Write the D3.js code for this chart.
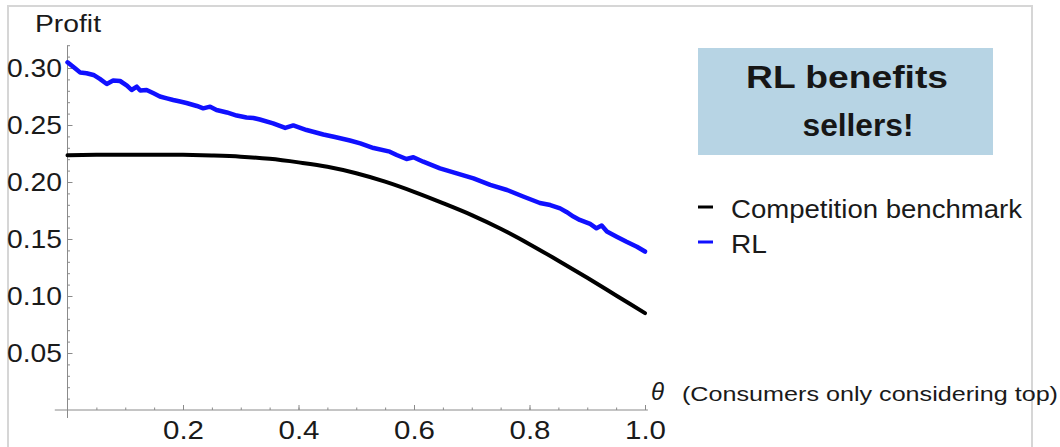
<!DOCTYPE html>
<html>
<head>
<meta charset="utf-8">
<script src="https://cdn.jsdelivr.net/npm/d3@7"></script>
<style>
  html, body { margin: 0; padding: 0; background: #fff; }
  svg { display: block; font-family: "Liberation Sans", Arial, Helvetica, sans-serif; }
</style>
</head>
<body>
<svg id="chart" width="1060" height="447"></svg>
<script>
// Competition benchmark profit as a function of theta
const benchTheta  = [0, 0.05, 0.1, 0.15, 0.2, 0.25, 0.3, 0.35, 0.4, 0.45, 0.5, 0.55, 0.6, 0.65, 0.7, 0.75, 0.8, 0.85, 0.9, 0.95, 1.0];
const benchProfit = [0.2235, 0.2238, 0.2240, 0.2240, 0.2238, 0.2232, 0.2222, 0.2203, 0.2172, 0.2134, 0.2077, 0.2003, 0.1914, 0.1815, 0.1710, 0.1590, 0.1455, 0.1310, 0.1160, 0.1005, 0.0850];

// RL seller profit (simulated, noisy)
const rlTheta  = [0, 0.013, 0.022, 0.033, 0.045, 0.056, 0.068, 0.079, 0.091, 0.103, 0.111, 0.120, 0.126, 0.137, 0.149, 0.160, 0.172, 0.183, 0.195, 0.206, 0.224, 0.235, 0.247, 0.258, 0.276, 0.293, 0.310, 0.322, 0.333, 0.356, 0.377, 0.391, 0.414, 0.443, 0.463, 0.489, 0.507, 0.530, 0.558, 0.570, 0.587, 0.599, 0.616, 0.645, 0.674, 0.703, 0.732, 0.761, 0.789, 0.818, 0.836, 0.853, 0.864, 0.876, 0.887, 0.905, 0.916, 0.925, 0.934, 0.951, 0.968, 0.986, 1.0];
const rlProfit = [0.3050, 0.2997, 0.2961, 0.2954, 0.2939, 0.2904, 0.2860, 0.2890, 0.2886, 0.2846, 0.2807, 0.2836, 0.2803, 0.2807, 0.2778, 0.2750, 0.2734, 0.2719, 0.2706, 0.2693, 0.2667, 0.2646, 0.2661, 0.2632, 0.2610, 0.2583, 0.2566, 0.2561, 0.2548, 0.2515, 0.2474, 0.2496, 0.2456, 0.2417, 0.2395, 0.2364, 0.2339, 0.2298, 0.2266, 0.2237, 0.2202, 0.2217, 0.2178, 0.2120, 0.2076, 0.2031, 0.1974, 0.1930, 0.1873, 0.1816, 0.1798, 0.1769, 0.1737, 0.1697, 0.1667, 0.1632, 0.1594, 0.1618, 0.1566, 0.1520, 0.1476, 0.1432, 0.1390];

const xTicks = [0.2, 0.4, 0.6, 0.8, 1.0];
const xMinorTicks = d3.range(0.05, 1.001, 0.05);
const yTicks = [0.05, 0.10, 0.15, 0.20, 0.25, 0.30];
const yMinorTicks = d3.range(0.01, 0.3201, 0.01);

const seriesNames = ["Competition benchmark", "RL"];
const seriesColors = ["#000000", "#1010ff"];

const svg = d3.select("#chart");

// frame around the figure
svg.append("path")
  .attr("d", "M8,447 V6 H1032 V447")
  .attr("fill", "none")
  .attr("stroke", "#d6d6d6")
  .attr("stroke-width", 2);

const x = d3.scaleLinear().domain([0, 1]).range([67.5, 645]);
const y = d3.scaleLinear().domain([0, 0.30]).range([410, 68]);

const axisColor = "#8a8a8a";

// axis lines crossing at the origin
svg.append("line")
  .attr("x1", x(-0.022)).attr("x2", x(1.005))
  .attr("y1", y(0)).attr("y2", y(0))
  .attr("stroke", axisColor).attr("stroke-width", 1);
svg.append("line")
  .attr("x1", x(0)).attr("x2", x(0))
  .attr("y1", y(-0.007)).attr("y2", y(0.32))
  .attr("stroke", axisColor).attr("stroke-width", 1);

// minor ticks
const xMinor = svg.append("g").attr("transform", `translate(0,${y(0)})`)
  .call(d3.axisBottom(x).tickValues(xMinorTicks).tickSizeInner(-2.5).tickSizeOuter(0).tickFormat(""));
const yMinor = svg.append("g").attr("transform", `translate(${x(0)},0)`)
  .call(d3.axisLeft(y).tickValues(yMinorTicks).tickSizeInner(-2.5).tickSizeOuter(0).tickFormat(""));
[xMinor, yMinor].forEach(g => {
  g.select(".domain").remove();
  g.selectAll("line").attr("stroke", axisColor);
});

// major ticks with labels
const xAxis = svg.append("g").attr("transform", `translate(0,${y(0)})`)
  .call(d3.axisBottom(x).tickValues(xTicks).tickSizeInner(-5).tickSizeOuter(0)
    .tickPadding(11).tickFormat(d3.format(".1f")));
const yAxis = svg.append("g").attr("transform", `translate(${x(0)},0)`)
  .call(d3.axisLeft(y).tickValues(yTicks).tickSizeInner(-5).tickSizeOuter(0)
    .tickPadding(5.5).tickFormat(d3.format(".2f")));
[xAxis, yAxis].forEach(g => {
  g.select(".domain").remove();
  g.selectAll("line").attr("stroke", axisColor);
  g.selectAll("text")
    .attr("fill", "#1a1a1a")
    .attr("font-family", "Liberation Sans, Arial, sans-serif")
    .attr("font-size", 25)
    .attr("lengthAdjust", "spacingAndGlyphs");
});
xAxis.selectAll("text").attr("textLength", 41);
yAxis.selectAll("text").attr("textLength", 55);

// axis titles
svg.append("text")
  .attr("x", 35).attr("y", 32)
  .attr("font-size", 23).attr("fill", "#1a1a1a")
  .attr("textLength", 66).attr("lengthAdjust", "spacingAndGlyphs")
  .text("Profit");
svg.append("text")
  .attr("x", 651).attr("y", 400)
  .attr("font-size", 24).attr("font-style", "italic").attr("fill", "#1a1a1a")
  .text("θ");
svg.append("text")
  .attr("x", 682).attr("y", 401)
  .attr("font-size", 21).attr("fill", "#1a1a1a")
  .attr("textLength", 376).attr("lengthAdjust", "spacingAndGlyphs")
  .text("(Consumers only considering top)");

// series lines
const line = d3.line()
  .x(d => x(d[0]))
  .y(d => y(d[1]));

svg.append("path")
  .datum(d3.zip(benchTheta, benchProfit))
  .attr("fill", "none")
  .attr("stroke", seriesColors[0])
  .attr("stroke-width", 4)
  .attr("stroke-linecap", "round")
  .attr("d", line.curve(d3.curveMonotoneX));

svg.append("path")
  .datum(d3.zip(rlTheta, rlProfit))
  .attr("fill", "none")
  .attr("stroke", seriesColors[1])
  .attr("stroke-width", 4.5)
  .attr("stroke-linejoin", "round")
  .attr("stroke-linecap", "round")
  .attr("d", line.curve(d3.curveLinear));

// callout box
svg.append("rect")
  .attr("x", 698).attr("y", 48)
  .attr("width", 295).attr("height", 107)
  .attr("fill", "#b7d4e4");
svg.append("text")
  .attr("x", 847).attr("y", 88)
  .attr("text-anchor", "middle")
  .attr("font-size", 31).attr("font-weight", "bold").attr("fill", "#161616")
  .attr("textLength", 202).attr("lengthAdjust", "spacingAndGlyphs")
  .text("RL benefits");
svg.append("text")
  .attr("x", 858).attr("y", 136)
  .attr("text-anchor", "middle")
  .attr("font-size", 31).attr("font-weight", "bold").attr("fill", "#161616")
  .attr("textLength", 111).attr("lengthAdjust", "spacingAndGlyphs")
  .text("sellers!");

// legend
const legend = svg.append("g");
const legendRows = [
  { y: 218, width: 291 },
  { y: 253, width: 36 }
];
seriesNames.forEach((name, i) => {
  const row = legendRows[i];
  legend.append("line")
    .attr("x1", 698).attr("x2", 713)
    .attr("y1", row.y - 11).attr("y2", row.y - 11)
    .attr("stroke", seriesColors[i]).attr("stroke-width", 3);
  legend.append("text")
    .attr("x", 731).attr("y", row.y)
    .attr("font-size", 25).attr("fill", "#1a1a1a")
    .attr("textLength", row.width).attr("lengthAdjust", "spacingAndGlyphs")
    .text(name);
});
</script>
</body>
</html>
